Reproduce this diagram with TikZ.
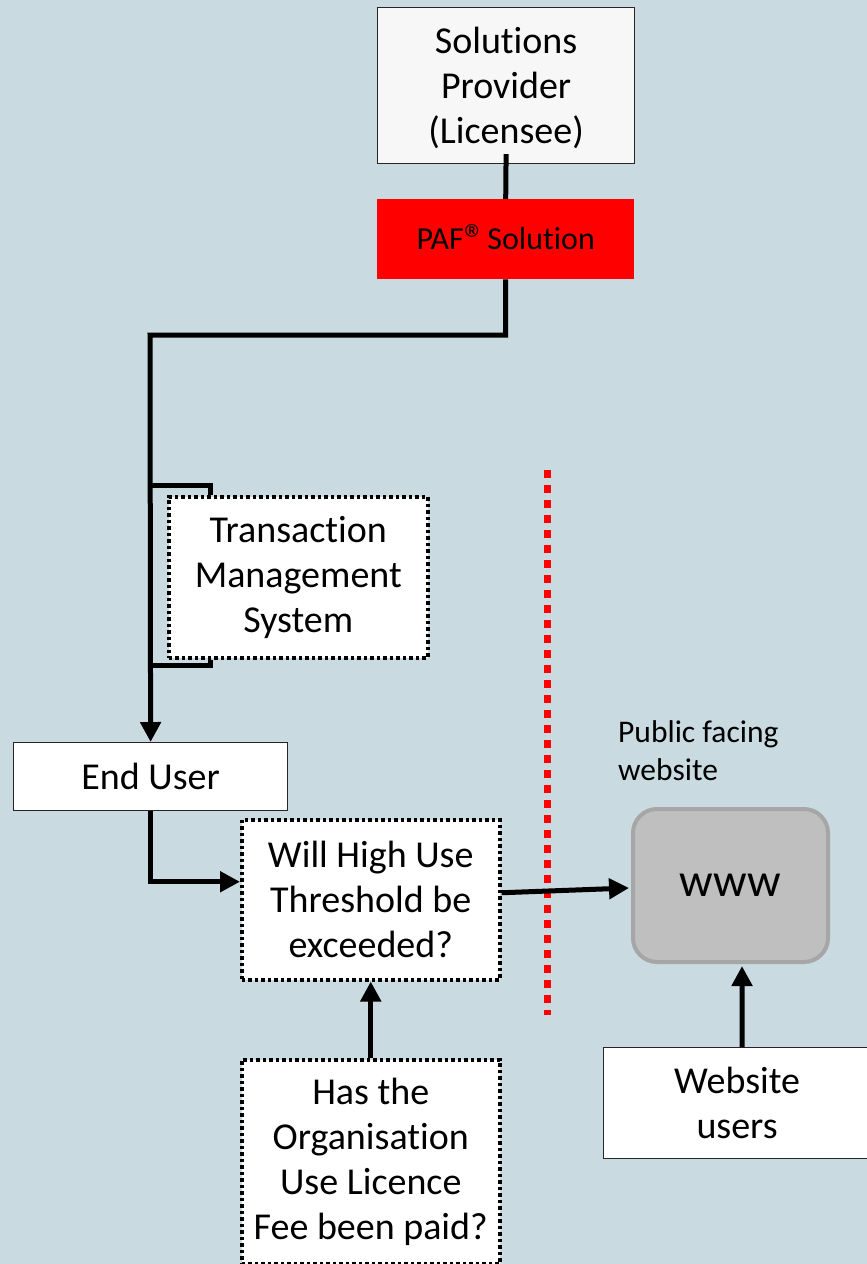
\documentclass[tikz,border=0pt]{standalone}
\usepackage{fontspec}
\setmainfont[Ligatures=NoCommon]{Carlito}
\usetikzlibrary{arrows.meta,calc}
\definecolor{bgc}{HTML}{C9DBE0}
\definecolor{wwwfill}{HTML}{BFBFBF}
\definecolor{wwwdraw}{HTML}{A6A6A6}
\definecolor{spfill}{HTML}{F7F7F7}
\begin{document}
\begin{tikzpicture}[x=1pt,y=-1pt,
  txt/.style={font=\fontsize{38}{45}\selectfont, align=center},
  plainbox/.style={txt, draw=black!85, line width=1.2pt, fill=white, inner sep=0pt, anchor=north west},
  dotbox/.style={txt, draw=black, line width=3.5pt, dash pattern=on 3.5pt off 3pt, fill=white, inner sep=0pt, anchor=north west},
  conn/.style={line width=5pt, draw=black},
  arr/.style={conn, -{Triangle[length=20pt,width=20pt]}}
]
\fill[bgc] (0,0) rectangle (867,1264);
\useasboundingbox (0,0) rectangle (867,1264);

% nodes
\node[plainbox, fill=spfill, minimum width=257pt, minimum height=156pt] (sp) at (377,7) {\strut Solutions\\Provider\\(Licensee)};
\node[anchor=north west, fill=red, inner sep=0pt, minimum width=257pt, minimum height=80pt, font=\fontsize{32}{38}\selectfont] (paf) at (377,199) {PAF\kern1pt\raisebox{-4pt}{\fontsize{42}{42}\selectfont ®}\kern-6pt\ Solution};
\node[dotbox, minimum width=259pt, minimum height=161pt] (tms) at (167,495) {Transaction\\Management\\System};
\node[plainbox, minimum width=274pt, minimum height=68pt] (eu) at (13,742) {End User};
\node[dotbox, minimum width=258pt, minimum height=160pt] (will) at (240,818) {Will High Use\\Threshold be\\exceeded?};
\node[dotbox, minimum width=258pt, minimum height=204pt] (has) at (240,1058) {Has the\\Organisation\\Use Licence\\Fee been paid?};
\node[anchor=north west, draw=wwwdraw, fill=wwwfill, line width=4pt, rounded corners=24pt, minimum width=195pt, minimum height=153pt, inner sep=0pt, font=\fontsize{47}{50}\selectfont] (www) at (631,807) {www};
\node[plainbox, minimum width=267pt, minimum height=111pt] (wu) at (603,1047) {Website\\users};
\node[anchor=north west, align=left, inner sep=0pt, font=\fontsize{31.5}{38}\selectfont] (pub) at (618,720) {Public facing\\website};

% red dotted separator
\draw[red, line width=7pt, dash pattern=on 8pt off 7pt] (547,470) -- (547,1015);

% connectors
\draw[conn] ($(sp.south)+(0,-10)$) -- (paf.north);
\coordinate (b1) at (150,335);
\draw[arr] (paf.south) |- (b1) -- (eu.north);
\draw[conn] (150,485) -| ($(tms.north west)+(43,0)$);
\draw[conn] (150,665) -| ($(tms.south west)+(43,0)$);
\draw[arr] (eu.south) |- ($(will.west)+(0,-18)$);
\draw[arr] ($(will.east)+(0,-7)$) -- ($(www.west)+(-2,2.5)$);
\draw[arr] (has.north) -- (will.south);
\draw[arr] ($(wu.north)+(5,0)$) -- ($(www.south)+(11.5,2)$);
\end{tikzpicture}
\end{document}
